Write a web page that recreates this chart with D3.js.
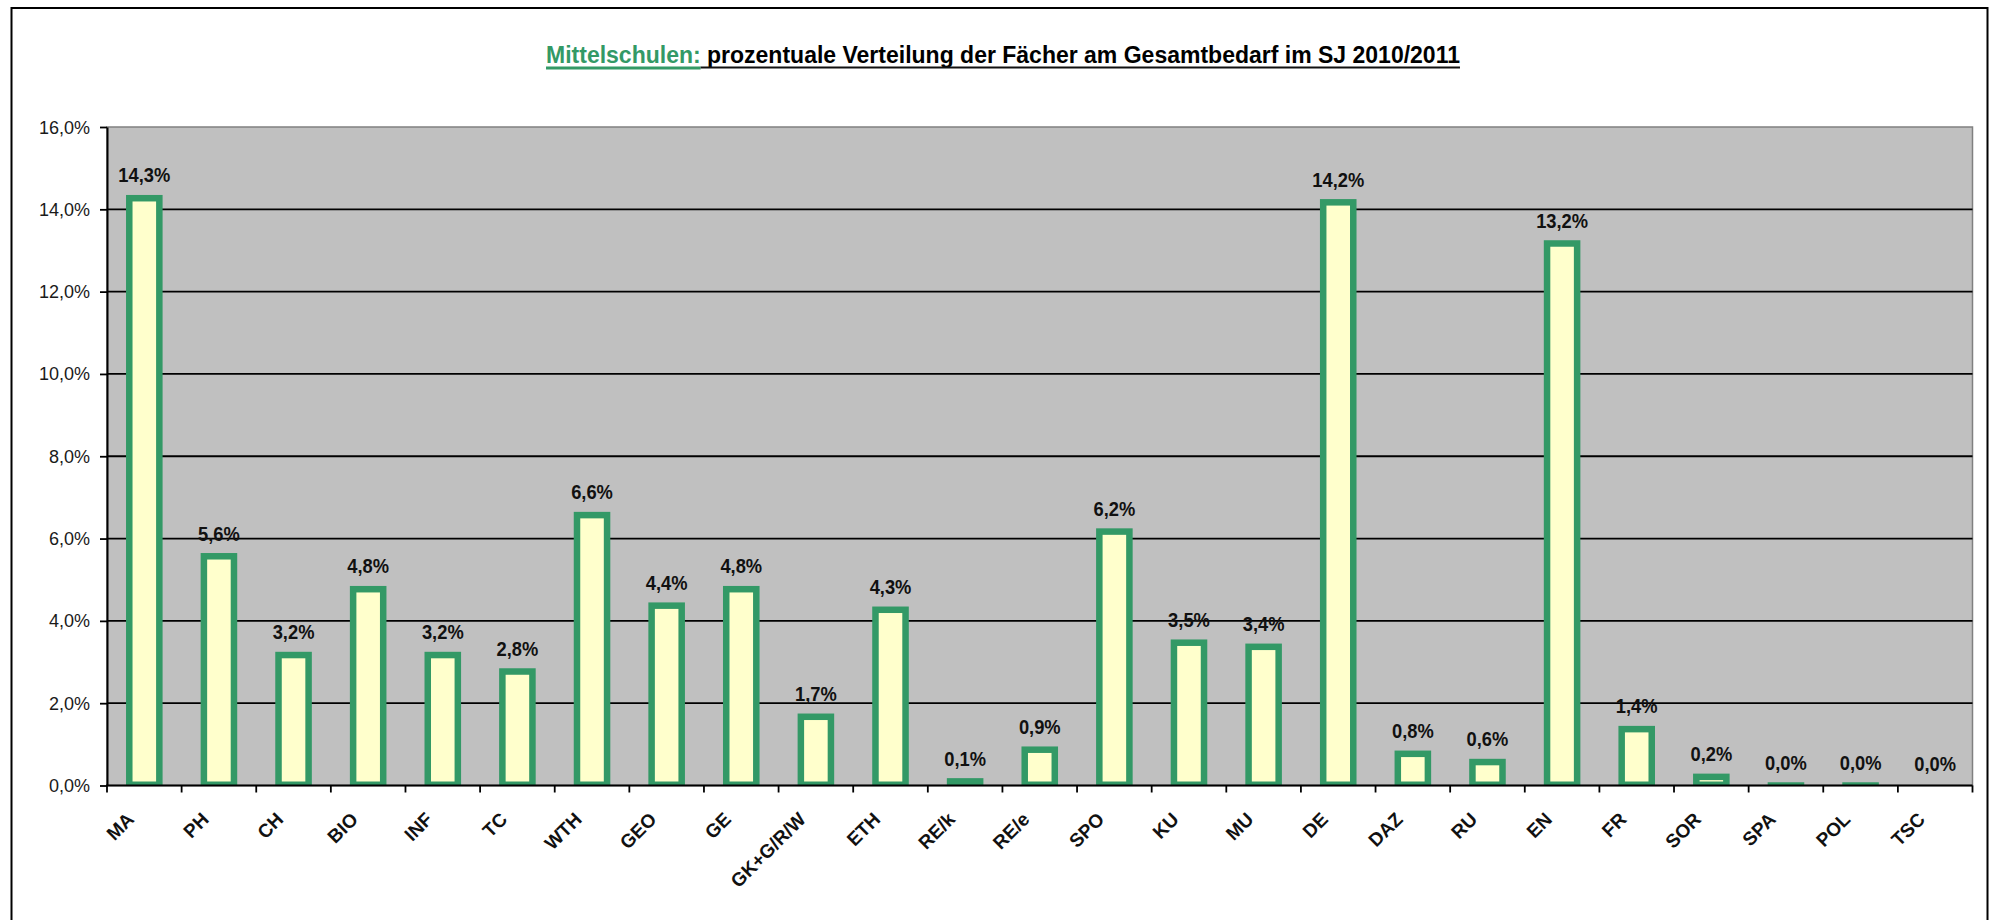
<!DOCTYPE html>
<html>
<head>
<meta charset="utf-8">
<script src="https://cdn.jsdelivr.net/npm/d3@7"></script>
<style>
    body { margin: 0; background: #fff; }
    svg { display: block; font-family: "Liberation Sans", Arial, sans-serif; }
</style>
</head>
<body>
<div id="chart-div"></div>
<script>
// chart values (percent of total demand per subject)
const subjects = ['MA', 'PH', 'CH', 'BIO', 'INF', 'TC', 'WTH', 'GEO', 'GE', 'GK+G/R/W', 'ETH', 'RE/k', 'RE/e',
                  'SPO', 'KU', 'MU', 'DE', 'DAZ', 'RU', 'EN', 'FR', 'SOR', 'SPA', 'POL', 'TSC'];
const shares = [14.3, 5.6, 3.2, 4.8, 3.2, 2.8, 6.6, 4.4, 4.8, 1.7, 4.3, 0.13, 0.9,
                6.2, 3.5, 3.4, 14.2, 0.8, 0.6, 13.2, 1.4, 0.24, 0.03, 0.03, 0.0];
const yTicks = [0, 2, 4, 6, 8, 10, 12, 14, 16];
const titleParts = ['Mittelschulen:', ' prozentuale Verteilung der Fächer am Gesamtbedarf im SJ 2010/2011'];

window.Chart = window.Chart || {};

Chart.init = function() {
    Chart.setup.initConsts();
    Chart.setup.initSvg();
    Chart.setup.initScales();

    Chart.draw.plotArea();
    Chart.draw.bars();
    Chart.draw.axes();
    Chart.draw.valueLabels();
    Chart.draw.title();
};

Chart.fmt = function(v) {
    return v.toFixed(1).replace('.', ',') + '%';
};

Chart.setup = {
    initConsts: function() {
        Chart.width = 1995;
        Chart.height = 920;

        Chart.left = 107;
        Chart.right = 1972.5;
        Chart.top = 127;
        Chart.bottom = 785.5;

        Chart.green = '#339966';
        Chart.yellow = '#FFFFCC';
        Chart.plotBg = '#C0C0C0';
        Chart.barBorder = 6.5;
        Chart.squeeze = 0.94; // value labels look a bit narrower in the original
    },

    initSvg: function() {
        Chart.svg = d3.select('#chart-div')
                      .append('svg')
                        .attr('width', Chart.width)
                        .attr('height', Chart.height);

        Chart.svg.append('rect')
                 .attr('width', Chart.width).attr('height', Chart.height)
                 .attr('fill', '#fff');

        // outer chart frame
        Chart.svg.append('rect')
                 .attr('x', 11.5).attr('y', 8)
                 .attr('width', 1976).attr('height', 940)
                 .attr('fill', 'none')
                 .attr('stroke', '#000')
                 .attr('stroke-width', 2);
    },

    initScales: function() {
        Chart.x = d3.scaleBand()
                    .domain(subjects)
                    .range([Chart.left, Chart.right])
                    .padding(0);
        Chart.y = d3.scaleLinear()
                    .domain([0, 16])
                    .range([Chart.bottom, Chart.top]);
        Chart.barWidth = Chart.x.bandwidth() * 0.49;
    },
};

Chart.draw = {
    plotArea: function() {
        Chart.svg.append('rect')
                 .attr('x', Chart.left).attr('y', Chart.top)
                 .attr('width', Chart.right - Chart.left)
                 .attr('height', Chart.bottom - Chart.top)
                 .attr('fill', Chart.plotBg)
                 .attr('stroke', '#808080')
                 .attr('stroke-width', 1.5);

        // horizontal gridlines
        Chart.svg.append('g')
                 .selectAll('line')
                 .data(yTicks.filter(d => d > 0 && d < 16))
                 .join('line')
                   .attr('x1', Chart.left).attr('x2', Chart.right)
                   .attr('y1', d => Chart.y(d)).attr('y2', d => Chart.y(d))
                   .attr('stroke', '#000')
                   .attr('stroke-width', 1.8);
    },

    bars: function() {
        let g = Chart.svg.append('g');
        let data = subjects.map((s, i) => ({ name: s, value: shares[i] }));
        let b = Chart.barBorder;

        g.selectAll('rect.outer')
         .data(data.filter(d => d.value > 0))
         .join('rect')
           .attr('class', 'outer')
           .attr('x', d => Chart.x(d.name) + (Chart.x.bandwidth() - Chart.barWidth) / 2)
           .attr('y', d => Chart.y(d.value) - 2)
           .attr('width', Chart.barWidth)
           .attr('height', d => Chart.bottom - Chart.y(d.value) + 2)
           .attr('fill', Chart.green);

        g.selectAll('rect.inner')
         .data(data.filter(d => Chart.bottom - 4 - (Chart.y(d.value) - 2 + b) > 0))
         .join('rect')
           .attr('class', 'inner')
           .attr('x', d => Chart.x(d.name) + (Chart.x.bandwidth() - Chart.barWidth) / 2 + b)
           .attr('y', d => Chart.y(d.value) - 2 + b)
           .attr('width', Chart.barWidth - 2 * b)
           .attr('height', d => Chart.bottom - 4 - (Chart.y(d.value) - 2 + b))
           .attr('fill', Chart.yellow);
    },

    axes: function() {
        let yAxis = Chart.svg.append('g')
                         .attr('transform', 'translate(' + Chart.left + ',0)')
                         .call(d3.axisLeft(Chart.y)
                                 .tickValues(yTicks)
                                 .tickSize(7)
                                 .tickSizeOuter(0)
                                 .tickFormat(Chart.fmt));
        yAxis.select('.domain').attr('stroke-width', 2);
        yAxis.selectAll('.tick line').attr('stroke-width', 1.8);
        yAxis.selectAll('.tick text')
             .attr('x', -17).attr('dy', 6)
             .attr('font-size', 18)
             .attr('font-family', '"Liberation Sans", Arial, sans-serif')
             .attr('fill', '#1a1a1a');

        // x axis: line plus ticks at the category borders
        let xg = Chart.svg.append('g');
        xg.append('line')
          .attr('x1', Chart.left - 1).attr('x2', Chart.right)
          .attr('y1', Chart.bottom).attr('y2', Chart.bottom)
          .attr('stroke', '#000').attr('stroke-width', 2);

        let borders = subjects.map(s => Chart.x(s)).concat([Chart.right]);
        xg.selectAll('line.tick')
          .data(borders)
          .join('line')
            .attr('class', 'tick')
            .attr('x1', d => d).attr('x2', d => d)
            .attr('y1', Chart.bottom).attr('y2', Chart.bottom + 7)
            .attr('stroke', '#000').attr('stroke-width', 1.8);

        xg.selectAll('text')
          .data(subjects)
          .join('text')
            .attr('transform', d => 'translate(' + (Chart.x(d) + Chart.x.bandwidth() / 2 - 9) + ',' + (Chart.bottom + 35) + ') rotate(-45)')
            .attr('text-anchor', 'end')
            .attr('font-size', 19)
            .attr('font-weight', 'bold')
            .attr('fill', '#111')
            .text(d => d);
    },

    valueLabels: function() {
        Chart.svg.append('g')
                 .selectAll('text')
                 .data(subjects.map((s, i) => ({ name: s, value: shares[i] })))
                 .join('text')
                   .attr('transform', d => 'translate(' + (Chart.x(d.name) + Chart.x.bandwidth() / 2) + ',' + (Chart.y(d.value) - 14.5) + ') scale(' + Chart.squeeze + ',1)')
                   .attr('text-anchor', 'middle')
                   .attr('font-size', 19.5)
                   .attr('font-weight', 'bold')
                   .attr('fill', '#111')
                   .text(d => Chart.fmt(d.value));
    },

    title: function() {
        let cx = 1003, base = 63;

        let t = Chart.svg.append('text')
                         .attr('font-size', 23)
                         .attr('font-weight', 'bold');
        let p1 = t.append('tspan').attr('fill', Chart.green).text(titleParts[0]);
        let p2 = t.append('tspan').attr('fill', '#000').text(titleParts[1]);

        let w1 = p1.node().getComputedTextLength();
        let w2 = p2.node().getComputedTextLength();
        let x0 = cx - (w1 + w2) / 2;

        t.attr('x', x0).attr('y', base);

        // underlines
        Chart.svg.append('rect')
                 .attr('x', x0).attr('y', base + 3.5)
                 .attr('width', w1).attr('height', 3)
                 .attr('fill', Chart.green);
        Chart.svg.append('rect')
                 .attr('x', x0 + w1).attr('y', base + 3.5)
                 .attr('width', w2).attr('height', 2)
                 .attr('fill', '#111');
    },
};

document.addEventListener('DOMContentLoaded', Chart.init);
</script>
</body>
</html>
